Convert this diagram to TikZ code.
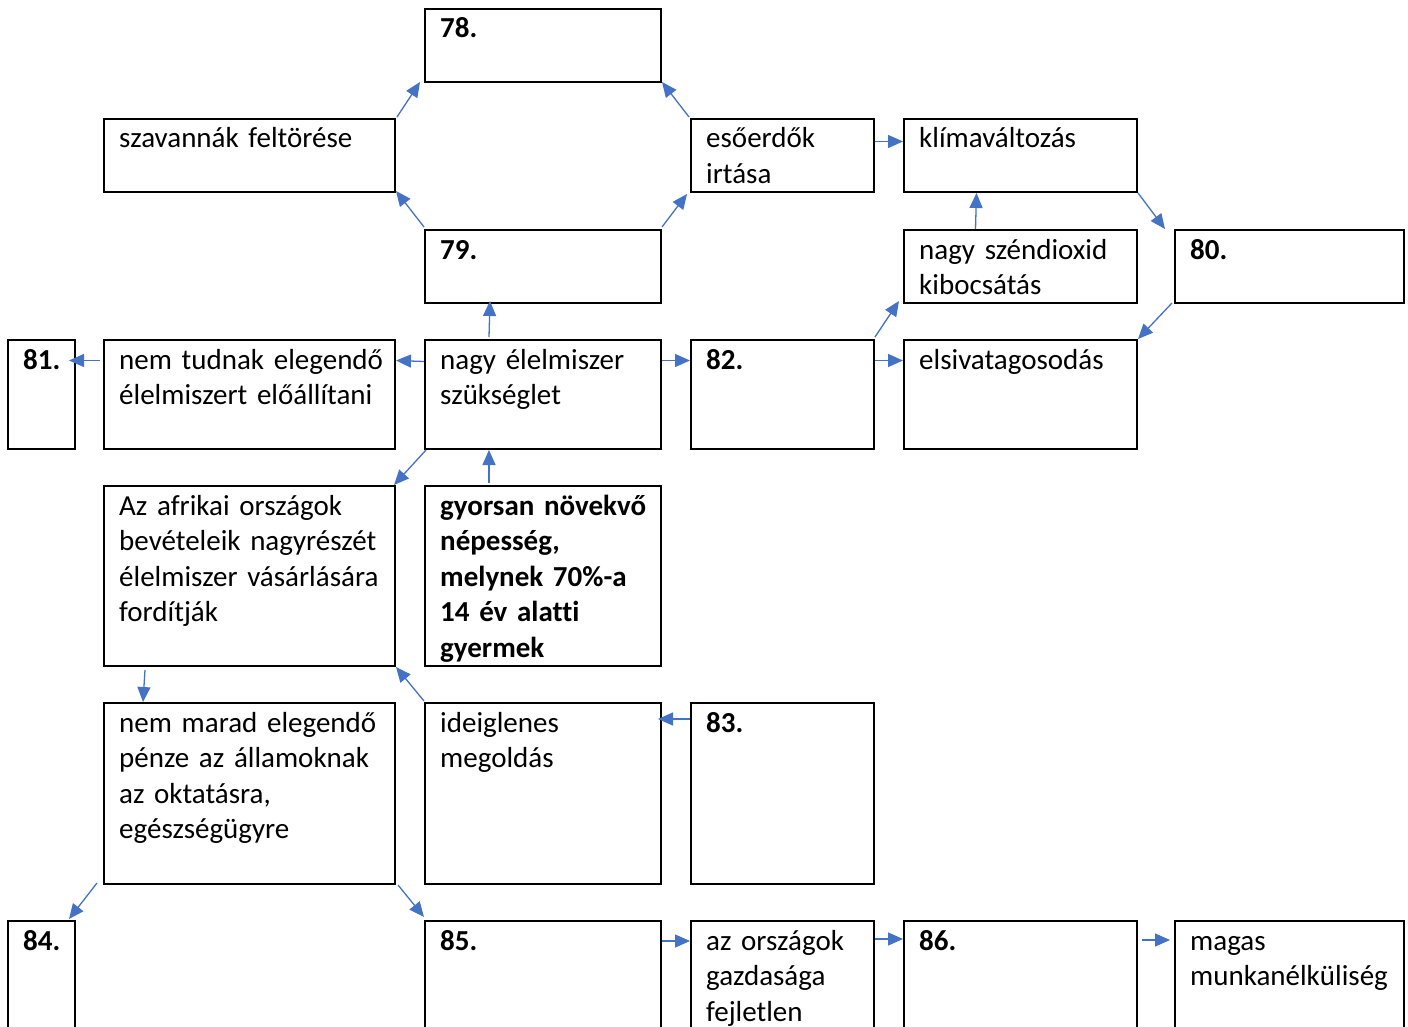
\documentclass[tikz,border=0pt]{standalone}
\usepackage{fontspec}
\setmainfont{Carlito}[Ligatures=CommonOff]
\usetikzlibrary{arrows.meta,calc}
\definecolor{arrowblue}{HTML}{4472C4}
\tikzset{
  box/.style={draw=black, line width=2pt, inner sep=0pt, fill=white},
  txt/.style={anchor=base west, inner sep=0pt, align=left, font=\fontsize{29}{35.5}\selectfont},
  arr/.style={draw=arrowblue, line width=1.3pt, -{Triangle[length=15pt,width=13pt]}}
}
\newcommand\mybox[6]{%
  \pgfmathsetmacro\bw{#4-#2}\pgfmathsetmacro\bh{#5-#3}%
  \pgfmathsetmacro\bcx{(#2+#4)/2}\pgfmathsetmacro\bcy{(#3+#5)/2}%
  \pgfmathsetmacro\tw{#4-#2-20}%
  \pgfmathsetmacro\tx{#2+15}\pgfmathsetmacro\ty{#3+29}%
  \node[box, minimum width=\bw pt, minimum height=\bh pt] (#1) at (\bcx,\bcy) {};
  \node[txt, text width=\tw pt] (#1t) at (\tx,\ty) {#6};
}
\begin{document}
\begin{tikzpicture}[x=1pt,y=-1pt]
\path[use as bounding box, clip] (0,0) rectangle (1408,1027);
\fill[white] (0,0) rectangle (1408,1027);
% row 1
\mybox{b78}{425}{9}{661}{82}{\textbf{78.}}
% row 2
\mybox{szav}{104}{119}{395}{192}{szavannák feltörése}
\mybox{esoe}{691}{119}{874}{192}{esőerdők\\irtása}
\mybox{klima}{904}{119}{1137}{192}{klímaváltozás}
% row 3
\mybox{b79}{425}{230}{661}{303}{\textbf{79.}}
\mybox{co2}{904}{230}{1137}{303}{nagy széndioxid\\kibocsátás}
\mybox{b80}{1175}{230}{1404}{303}{\textbf{80.}}
% row 4
\mybox{b81}{8}{340}{75}{449}{\textbf{81.}}
\mybox{nemtud}{104}{340}{395}{449}{nem tudnak elegendő\\élelmiszert előállítani}
\mybox{elelm}{425}{340}{661}{449}{nagy élelmiszer\\szükséglet}
\mybox{b82}{691}{340}{874}{449}{\textbf{82.}}
\mybox{sivat}{904}{340}{1137}{449}{elsivatagosodás}
% row 5
\mybox{afrika}{104}{486}{395}{666}{Az afrikai országok\\bevételeik nagyrészét\\élelmiszer vásárlására\\fordítják}
\mybox{gyors}{425}{486}{661}{666}{\textbf{gyorsan növekvő}\\\textbf{népesség,}\\\textbf{melynek 70\%-a}\\\textbf{14 év alatti}\\\textbf{gyermek}}
% row 6
\mybox{nemmarad}{104}{703}{395}{884}{nem marad elegendő\\pénze az államoknak\\az oktatásra,\\egészségügyre}
\mybox{ideig}{425}{703}{661}{884}{ideiglenes\\megoldás}
\mybox{b83}{691}{703}{874}{884}{\textbf{83.}}
% row 7
\mybox{b84}{8}{921}{75}{1045}{\textbf{84.}}
\mybox{b85}{425}{921}{661}{1045}{\textbf{85.}}
\mybox{orszag}{691}{921}{874}{1045}{az országok\\gazdasága\\fejletlen}
\mybox{b86}{904}{921}{1137}{1045}{\textbf{86.}}
\mybox{magas}{1175}{921}{1404}{1045}{magas\\munkanélküliség}
% arrows
\draw[arr] ($(szav.north east)+(1,-1)$) -- ($(b78.south west)+(-4,-1)$);
\draw[arr] ($(esoe.north west)+(-1,-1)$) -- ($(b78.south east)+(0,-1)$);
\draw[arr] ($(b79.north west)+(0,-2)$) -- ($(szav.south east)+(0,-2)$);
\draw[arr] ($(b79.north east)+(0,-2)$) -- ($(esoe.south west)+(-3,1)$);
\draw[arr] ($(esoe.east)+(0,-14)$) -- ($(klima.west)+(0,-14)$);
\draw[arr] ($(co2.north)+(-45,0)$) -- ($(klima.south)+(-44,0)$);
\draw[arr] ($(klima.south east)+(0,0)$) -- ($(b80.north west)+(-9,0)$);
\draw[arr] ($(b80.south west)+(-2,-1)$) -- ($(sivat.north east)+(0,0)$);
\draw[arr] ($(b82.north east)+(0,-2)$) -- ($(co2.south west)+(-4,-3)$);
\draw[arr] ($(b82.east)+(0,-34)$) -- ($(sivat.west)+(0,-34)$);
\draw[arr] ($(elelm.east)+(0,-34)$) -- ($(b82.west)+(0,-34)$);
\draw[arr] ($(elelm.west)+(0,-33)$) -- ($(nemtud.east)+(0,-34)$);
\draw[arr] ($(nemtud.west)+(-3,-34)$) -- ($(b81.east)+(-7,-34)$);
\draw[arr] ($(elelm.north)+(-54,-2)$) -- ($(b79.south)+(-53,-3)$);
\draw[arr] ($(gyors.north)+(-54,-2)$) -- ($(elelm.south)+(-54,0)$);
\draw[arr] ($(elelm.south west)+(2,0)$) -- ($(afrika.north east)+(-2,0)$);
\draw[arr] ($(afrika.south west)+(42,3)$) -- ($(nemmarad.north west)+(40,0)$);
\draw[arr] ($(ideig.north west)+(0,-1)$) -- ($(afrika.south east)+(0,0)$);
\draw[arr] ($(b83.north west)+(0,17)$) -- ($(ideig.north east)+(-4,17)$);
\draw[arr] ($(nemmarad.south west)+(-6,-2)$) -- ($(b84.north east)+(-7,-1)$);
\draw[arr] ($(nemmarad.south east)+(2,0)$) -- ($(b85.north west)+(0,-3)$);
\draw[arr] ($(b85.north east)+(0,21)$) -- ($(orszag.north west)+(0,21)$);
\draw[arr] ($(orszag.north east)+(0,19)$) -- ($(b86.north west)+(0,19)$);
\draw[arr] ($(b86.north east)+(4,20)$) -- ($(magas.north west)+(-4,20)$);
\end{tikzpicture}
\end{document}
